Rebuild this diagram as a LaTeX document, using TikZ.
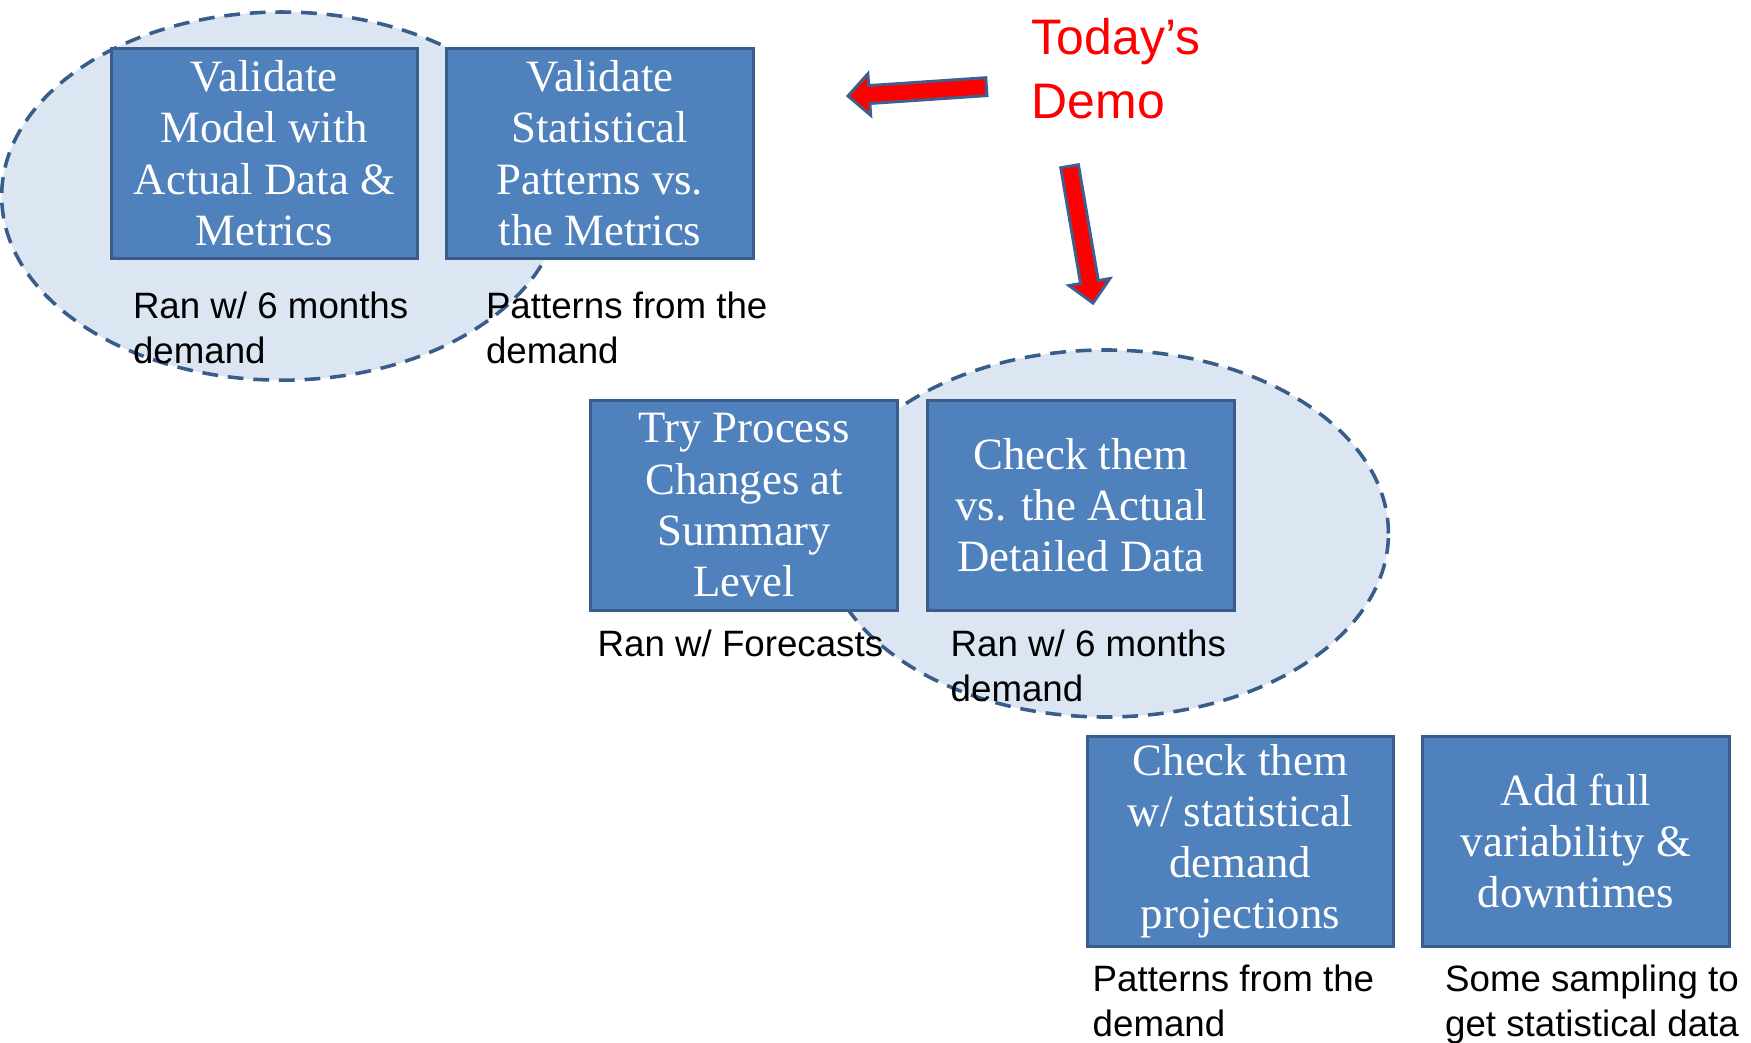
\documentclass[tikz,border=0pt]{standalone}
\usepackage{fontspec}
\setmainfont{Liberation Serif}
\newfontfamily\notefont{Liberation Sans}
\usetikzlibrary{positioning,calc}

\definecolor{boxblue}{HTML}{4F81BD}
\definecolor{boxline}{HTML}{385D8A}
\definecolor{groupfill}{HTML}{DCE6F2}
\definecolor{arrowline}{HTML}{3F5F8E}

% block arrow from tail (#1) to tip (#2)
\newcommand{\demoarrow}[2]{%
  \coordinate (hb) at ($(#2)!0.38cm!(#1)$);
  \draw[pointer] (#2) -- ($(hb)!0.37cm!90:(#1)$) -- ($(hb)!0.16cm!90:(#1)$)
    -- ($(#1)!0.16cm!-90:(#2)$) -- ($(#1)!0.16cm!90:(#2)$)
    -- ($(hb)!0.16cm!-90:(#1)$) -- ($(hb)!0.37cm!-90:(#1)$) -- cycle;}

\begin{document}
\begin{tikzpicture}[
    stepbox/.style={draw=boxline, fill=boxblue, line width=1.5pt, text=white,
      align=center, minimum width=5.46cm, minimum height=3.74cm,
      inner sep=0pt, outer sep=0pt, font=\fontsize{22.7}{25.9}\selectfont},
    note/.style={align=left, inner sep=0pt, outer sep=0pt,
      font=\notefont\fontsize{18.6}{22.8}\selectfont},
    group/.style={draw=boxline, fill=groupfill, line width=1.8pt,
      dash pattern=on 8pt off 5pt},
    pointer/.style={draw=arrowline, fill=red, line width=1.5pt, line join=miter}
  ]
  \useasboundingbox (0,0) rectangle (31.2,-18.567);

  % dashed groups
  \draw[group] (5.02,-3.494) ellipse [x radius=4.99, y radius=3.28];
  \draw[group] (19.70,-9.506) ellipse [x radius=5.04, y radius=3.27];

  % steps
  \node[stepbox] (val1) at (4.71,-2.73) {Validate\\Model with\\Actual Data \&\\Metrics};
  \node[stepbox, right=0.52cm of val1] (val2) {Validate\\Statistical\\Patterns vs.\\the Metrics};
  \node[stepbox] (try) at (13.26,-9.0) {Try Process\\Changes at\\Summary\\Level};
  \node[stepbox, right=0.54cm of try] (check) {Check them\\vs. the Actual\\Detailed Data};
  \node[stepbox] (checkstat) at (22.10,-14.99) {Check them\\w/ statistical\\demand\\projections};
  \node[stepbox, right=0.52cm of checkstat] (addvar) {Add full\\variability \&\\downtimes};

  % notes under the steps
  \node[note, below right=0.60cm and 0.39cm of val1.south west] (val1note) {Ran w/ 6 months\\demand};
  \node[note, below right=0.60cm and 0.70cm of val2.south west] (val2note) {Patterns from the\\demand};
  \node[note, below right=0.36cm and 0.12cm of try.south west] (trynote) {Ran w/ Forecasts};
  \node[note, below right=0.36cm and 0.41cm of check.south west] (checknote) {Ran w/ 6 months\\demand};
  \node[note, below right=0.34cm and 0.10cm of checkstat.south west] (checkstatnote) {Patterns from the\\demand};
  \node[note, below right=0.34cm and 0.40cm of addvar.south west] (addvarnote) {Some sampling to\\get statistical data};

  % today's demo
  \node[anchor=north west, align=left, inner sep=0pt, text=red,
    font=\notefont\fontsize{25.3}{32.2}\selectfont] (demo) at (18.38,-0.326) {Today’s\\Demo};
  \coordinate (leftTail) at (17.576,-1.544);
  \coordinate (leftTip) at (15.11,-1.71);
  \coordinate (downTail) at (19.058,-2.962);
  \coordinate (downTip) at (19.476,-5.40);
  \demoarrow{leftTail}{leftTip}
  \demoarrow{downTail}{downTip}
\end{tikzpicture}
\end{document}
